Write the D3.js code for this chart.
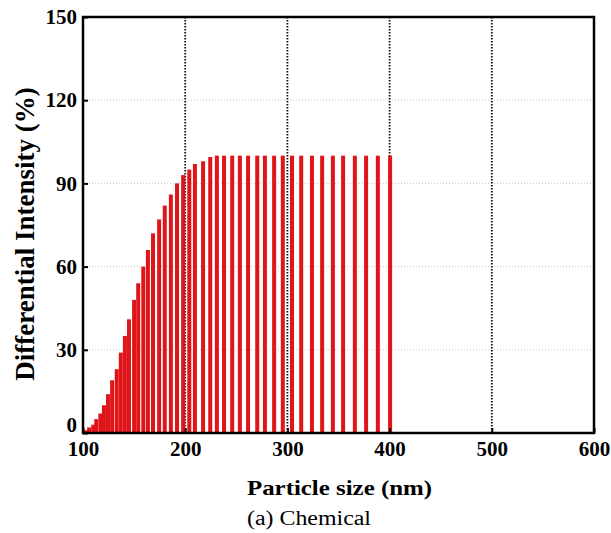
<!DOCTYPE html>
<html>
<head>
<meta charset="utf-8">
<script src="https://cdn.jsdelivr.net/npm/d3@7"></script>
<style>
  body { margin: 0; background: #fff; }
  text { font-family: "Liberation Serif", "Times New Roman", serif; }
</style>
</head>
<body>
<div id="chart"></div>
<script>
// particle size bins (nm) and differential intensity (%)
var sizes = [103, 106, 110, 113, 117, 120.5, 124.5, 128.5, 133, 137, 141, 145, 150, 154, 159,
  163.5, 168.5, 174.5, 180, 186, 192, 198, 204, 209.5, 217.5, 224.5, 231, 238, 246, 253.5,
  261.5, 270.5, 278, 287, 295.5, 304.5, 313.5, 324, 334, 344.5, 354.5, 366, 377, 388.5, 400.5];
var intensity = [1, 2, 3, 5, 7, 10, 14, 19, 23, 29, 35, 41, 48, 54, 60,
  66, 72, 77, 82, 86, 90, 93, 95, 97, 98, 99.5, 100, 100, 100, 100,
  100, 100, 100, 100, 100, 100, 100, 100, 100, 100, 100, 100, 100, 100, 100];
var xTicks = [100, 200, 300, 400, 500, 600];
var yTicks = [0, 30, 60, 90, 120, 150];

var margin = { top: 17, right: 17, bottom: 100, left: 83 },
    W = 611, H = 533,
    width = W - margin.left - margin.right,
    height = H - margin.top - margin.bottom;

var svg = d3.select("#chart").append("svg")
    .attr("width", W)
    .attr("height", H);

var g = svg.append("g")
    .attr("transform", "translate(" + margin.left + "," + margin.top + ")");

var x = d3.scaleLinear().domain([100, 600]).range([0, width]);
var y = d3.scaleLinear().domain([0, 150]).range([height, 0]);

// horizontal grid (light dotted)
g.selectAll(".hgrid")
    .data(yTicks.filter(function (d) { return d > 0 && d < 150; }))
  .enter().append("line")
    .attr("x1", 0).attr("x2", width)
    .attr("y1", function (d) { return y(d); })
    .attr("y2", function (d) { return y(d); })
    .attr("stroke", "#c8c8c8")
    .attr("stroke-width", 1)
    .attr("stroke-dasharray", "1,2");

// vertical grid (black dotted)
g.selectAll(".vgrid")
    .data(xTicks.filter(function (d) { return d > 100 && d < 600; }))
  .enter().append("line")
    .attr("x1", function (d) { return x(d); })
    .attr("x2", function (d) { return x(d); })
    .attr("y1", 0).attr("y2", height)
    .attr("stroke", "#111")
    .attr("stroke-width", 1.8)
    .attr("stroke-dasharray", "1.5,1.5");

// bars
var data = sizes.map(function (s, i) { return { size: s, val: intensity[i] }; });
var barW = 4;
g.selectAll(".bar")
    .data(data)
  .enter().append("rect")
    .attr("class", "bar")
    .attr("x", function (d) { return x(d.size) - barW / 2; })
    .attr("y", function (d) { return y(d.val); })
    .attr("width", barW)
    .attr("height", function (d) { return height - y(d.val); })
    .attr("fill", "#e01519");

// axes, ticks inside
var xAxis = d3.axisBottom(x).tickValues(xTicks).tickSizeInner(-5).tickSizeOuter(0);
var yAxis = d3.axisLeft(y).tickValues(yTicks).tickSizeInner(-5).tickSizeOuter(0).tickPadding(6);

var gx = g.append("g")
    .attr("transform", "translate(0," + height + ")")
    .call(xAxis);
var gy = g.append("g").call(yAxis);

[gx, gy].forEach(function (a) {
    a.select(".domain").remove();
    a.selectAll("line").attr("stroke", "#000").attr("stroke-width", 2);
    a.selectAll("text")
        .attr("fill", "#000")
        .style("font-family", "'Liberation Serif', serif")
        .style("font-weight", "bold")
        .style("font-size", "21px");
});
gx.selectAll("text").attr("dy", null).attr("y", 23);
// zero label sits a little above the corner
gy.selectAll("text").filter(function (d) { return d === 0; }).attr("y", -8);

// frame
g.append("rect")
    .attr("x", 0).attr("y", 0)
    .attr("width", width).attr("height", height)
    .attr("fill", "none")
    .attr("stroke", "#000")
    .attr("stroke-width", 2.5);

// labels
svg.append("text")
    .attr("x", 247)
    .attr("y", 495)
    .attr("textLength", 185)
    .attr("lengthAdjust", "spacingAndGlyphs")
    .style("font-weight", "bold")
    .style("font-size", "22px")
    .text("Particle size (nm)");

svg.append("text")
    .attr("transform", "translate(34,234) rotate(-90)")
    .attr("text-anchor", "middle")
    .style("font-weight", "bold")
    .style("font-size", "27px")
    .text("Differential Intensity (%)");

svg.append("text")
    .attr("x", 247)
    .attr("y", 525)
    .attr("textLength", 124)
    .attr("lengthAdjust", "spacingAndGlyphs")
    .style("font-size", "20px")
    .text("(a) Chemical");
</script>
</body>
</html>
